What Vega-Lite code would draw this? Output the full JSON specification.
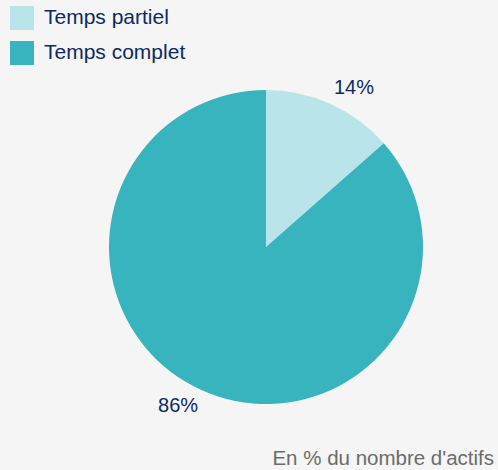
{
  "$schema": "https://vega.github.io/schema/vega-lite/v6.json",
  "width": 464,
  "height": 400,
  "autosize": "none",
  "padding": {"left": 34, "top": 47, "right": 0, "bottom": 23},
  "background": "#f5f5f5",
  "config": {"view": {"stroke": null}, "font": "Liberation Sans"},
  "title": {
    "text": "En % du nombre d'actifs",
    "orient": "bottom",
    "anchor": "end",
    "fontSize": 20.5,
    "fontWeight": "normal",
    "color": "#6b6b6b",
    "offset": 2,
    "dx": -4
  },
  "data": {
    "values": [
      {"type": "Temps partiel", "value": 13.5, "label": "14%", "rank": 1},
      {"type": "Temps complet", "value": 86.5, "label": "86%", "rank": 2}
    ]
  },
  "encoding": {
    "theta": {"field": "value", "type": "quantitative", "stack": true},
    "order": {"field": "rank", "type": "quantitative"}
  },
  "layer": [
    {
      "mark": {"type": "arc", "outerRadius": 157},
      "encoding": {
        "color": {
          "field": "type",
          "type": "nominal",
          "scale": {"domain": ["Temps partiel", "Temps complet"], "range": ["#b9e5ea", "#38b4bf"]},
          "legend": {
            "title": null,
            "orient": "none",
            "legendX": -24,
            "legendY": -41,
            "symbolType": "square",
            "symbolSize": 576,
            "symbolStrokeWidth": 0,
            "labelFontSize": 21,
            "labelColor": "#0d2a63",
            "labelOffset": 10,
            "rowPadding": 11,
            "labelFont": "Liberation Sans"
          }
        }
      }
    },
    {
      "mark": {"type": "text", "radius": 182, "thetaOffset": 0.08, "fontSize": 20, "color": "#0d2a63"},
      "encoding": {"text": {"field": "label"}}
    }
  ]
}
